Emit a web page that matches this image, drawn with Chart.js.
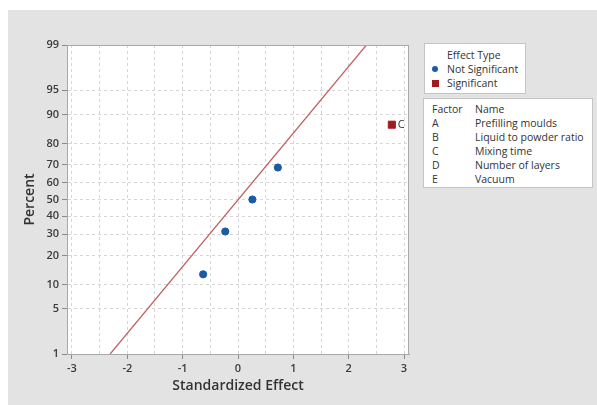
<!DOCTYPE html>
<html>
<head>
<meta charset="utf-8">
<script src="https://cdn.jsdelivr.net/npm/chart.js@4/dist/chart.umd.min.js"></script>
<style>
    html, body { margin: 0; padding: 0; background: #fff; }
    #wrap { position: relative; width: 597px; height: 405px; }
    #effectChart { position: absolute; left: 0; top: 0; }
    .box {
        position: absolute;
        background: #fff;
        border: 1px solid #c4c4c4;
        font-family: 'Open Sans', sans-serif;
        font-size: 10.5px;
        color: #333;
        line-height: 14px;
        box-sizing: border-box;
    }
    #typeBox { left: 424px; top: 43px; width: 102px; height: 51px; padding: 4px 0 0 7px; }
    #typeBox .title { padding-left: 15px; }
    #typeBox .row { display: flex; align-items: center; }
    #typeBox .mark { width: 15px; display: flex; align-items: center; }
    .dot { width: 6px; height: 6px; border-radius: 50%; background: #1d5aa6; }
    .sq { width: 7px; height: 7px; background: #a01c1c; }
    #factorBox { left: 423px; top: 98px; width: 170px; height: 90px; padding: 3px 0 0 8px; }
    #factorBox table { border-collapse: collapse; }
    #factorBox td { padding: 0; height: 14px; white-space: nowrap; }
    #factorBox td.code { width: 43px; }
</style>
</head>
<body>
<div id="wrap">
    <canvas id="effectChart" width="597" height="405"></canvas>
    <div class="box" id="typeBox">
        <div class="title">Effect Type</div>
        <div class="row"><span class="mark"><span class="dot"></span></span>Not Significant</div>
        <div class="row"><span class="mark"><span class="sq"></span></span>Significant</div>
    </div>
    <div class="box" id="factorBox">
        <table id="factorTable"></table>
    </div>
</div>
<script>
// standardized effects and their normal percentiles
const notSigEffects = [-0.63, -0.23, 0.26, 0.72];
const notSigPercents = [13.0, 31.5, 50.0, 68.5];
const sigEffects = [2.78];
const sigPercents = [87.0];
const sigLabels = ['C'];

// fitted reference line
const lineEffects = [-2.31, 2.32];
const linePercents = [1, 99];

const percentTicks = [1, 5, 10, 20, 30, 40, 50, 60, 70, 80, 90, 95, 99];
const effectTicks = [-3, -2.5, -2, -1.5, -1, -0.5, 0, 0.5, 1, 1.5, 2, 2.5, 3];

const factorCodes = ['A', 'B', 'C', 'D', 'E'];
const factorNames = ['Prefilling moulds', 'Liquid to powder ratio', 'Mixing time', 'Number of layers', 'Vacuum'];

// inverse normal cdf (Acklam)
const probit = (p) => {
    const a = [-3.969683028665376e+01, 2.209460984245205e+02, -2.759285104469687e+02, 1.383577518672690e+02, -3.066479806614716e+01, 2.506628277459239e+00];
    const b = [-5.447609879822406e+01, 1.615858368580409e+02, -1.556989798598866e+02, 6.680131188771972e+01, -1.328068155288572e+01];
    const c = [-7.784894002430293e-03, -3.223964580411365e-01, -2.400758277161838e+00, -2.549671010676202e+00, 4.374664141464968e+00, 2.938163982698783e+00];
    const d = [7.784695709041462e-03, 3.224671290700398e-01, 2.445134137142996e+00, 3.754408661907416e+00];
    const pl = 0.02425;
    let q, r;
    if (p < pl) {
        q = Math.sqrt(-2 * Math.log(p));
        return (((((c[0]*q+c[1])*q+c[2])*q+c[3])*q+c[4])*q+c[5]) / ((((d[0]*q+d[1])*q+d[2])*q+d[3])*q+1);
    }
    if (p > 1 - pl) {
        q = Math.sqrt(-2 * Math.log(1 - p));
        return -(((((c[0]*q+c[1])*q+c[2])*q+c[3])*q+c[4])*q+c[5]) / ((((d[0]*q+d[1])*q+d[2])*q+d[3])*q+1);
    }
    q = p - 0.5;
    r = q * q;
    return (((((a[0]*r+a[1])*r+a[2])*r+a[3])*r+a[4])*r+a[5])*q / (((((b[0]*r+b[1])*r+b[2])*r+b[3])*r+b[4])*r+1);
};

const toPoints = (xs, ps) => xs.map((x, i) => ({ x: x, y: probit(ps[i] / 100) }));

const factorTable = document.getElementById('factorTable');
let rows = '<tr><td class="code">Factor</td><td>Name</td></tr>';
factorCodes.forEach((code, i) => {
    rows += '<tr><td class="code">' + code + '</td><td>' + factorNames[i] + '</td></tr>';
});
factorTable.innerHTML = rows;

const panelPlugin = {
    id: 'panel',
    beforeDraw(chart) {
        const ctx = chart.ctx;
        const area = chart.chartArea;
        ctx.save();
        ctx.fillStyle = '#ffffff';
        ctx.fillRect(0, 0, chart.width, chart.height);
        ctx.fillStyle = '#e3e3e3';
        ctx.fillRect(8, 10, chart.width - 8, chart.height - 10);
        ctx.fillStyle = '#ffffff';
        ctx.fillRect(area.left, area.top, area.right - area.left, area.bottom - area.top);
        ctx.restore();
    },
    afterDraw(chart) {
        const ctx = chart.ctx;
        const area = chart.chartArea;
        ctx.save();
        ctx.strokeStyle = '#a8a8a8';
        ctx.lineWidth = 1;
        ctx.strokeRect(area.left + 0.5, area.top + 0.5, area.right - area.left - 1, area.bottom - area.top);
        // label the significant effects
        const meta = chart.getDatasetMeta(2);
        ctx.fillStyle = '#333';
        ctx.font = '11px "Open Sans"';
        ctx.textBaseline = 'middle';
        meta.data.forEach((pt, i) => {
            ctx.fillText(sigLabels[i], pt.x + 6, pt.y);
        });
        ctx.restore();
    }
};

const tickFont = { family: 'Open Sans', size: 11, weight: '600' };
const titleFont = { family: 'Open Sans', size: 14, weight: '600' };

new Chart(document.getElementById('effectChart').getContext('2d'), {
    type: 'scatter',
    data: {
        datasets: [
            {
                label: 'Line',
                data: toPoints(lineEffects, linePercents),
                showLine: true,
                borderColor: 'rgb(192, 92, 92)',
                borderWidth: 1.2,
                pointRadius: 0,
                order: 3
            },
            {
                label: 'Not Significant',
                data: toPoints(notSigEffects, notSigPercents),
                pointStyle: 'circle',
                pointRadius: 3.6,
                backgroundColor: '#1d5aa6',
                borderColor: '#1d5aa6',
                order: 1
            },
            {
                label: 'Significant',
                data: toPoints(sigEffects, sigPercents),
                pointStyle: 'rect',
                pointRadius: 5,
                backgroundColor: '#a01c1c',
                borderColor: '#a01c1c',
                order: 1
            }
        ]
    },
    options: {
        responsive: false,
        animation: false,
        layout: { padding: { left: 0, top: 45, right: 188, bottom: 0 } },
        plugins: {
            legend: { display: false },
            tooltip: { enabled: false }
        },
        scales: {
            x: {
                type: 'linear',
                min: -3.09,
                max: 3.09,
                afterBuildTicks: (scale) => {
                    scale.ticks = effectTicks.map(v => ({ value: v }));
                },
                afterFit: (scale) => { scale.height = 51; },
                ticks: {
                    autoSkip: false,
                    maxRotation: 0,
                    padding: 3,
                    color: '#3a3a3a',
                    font: tickFont,
                    callback: (v) => Number.isInteger(v) ? String(v) : ''
                },
                grid: {
                    color: '#d6d6d6',
                    tickLength: 5,
                    tickColor: (ctx) => (ctx.tick && Number.isInteger(ctx.tick.value)) ? '#8a8a8a' : 'rgba(0,0,0,0)'
                },
                border: { color: '#a8a8a8', dash: [3, 3] },
                title: {
                    display: true,
                    text: 'Standardized Effect',
                    color: '#333',
                    font: titleFont,
                    padding: { top: 0, bottom: 11 }
                }
            },
            y: {
                type: 'linear',
                min: probit(percentTicks[0] / 100),
                max: probit(percentTicks[percentTicks.length - 1] / 100),
                afterBuildTicks: (scale) => {
                    scale.ticks = percentTicks.map(p => ({ value: probit(p / 100) }));
                },
                afterFit: (scale) => { scale.width = 67; },
                ticks: {
                    autoSkip: false,
                    padding: 3,
                    color: '#3a3a3a',
                    font: tickFont,
                    callback: (v, i) => String(percentTicks[i])
                },
                grid: {
                    color: '#d6d6d6',
                    tickLength: 5,
                    tickColor: '#8a8a8a'
                },
                border: { color: '#a8a8a8', dash: [3, 3] },
                title: {
                    display: true,
                    text: 'Percent',
                    color: '#333',
                    font: titleFont,
                    padding: { top: 22, bottom: 0 }
                }
            }
        }
    },
    plugins: [panelPlugin]
});
</script>
</body>
</html>
